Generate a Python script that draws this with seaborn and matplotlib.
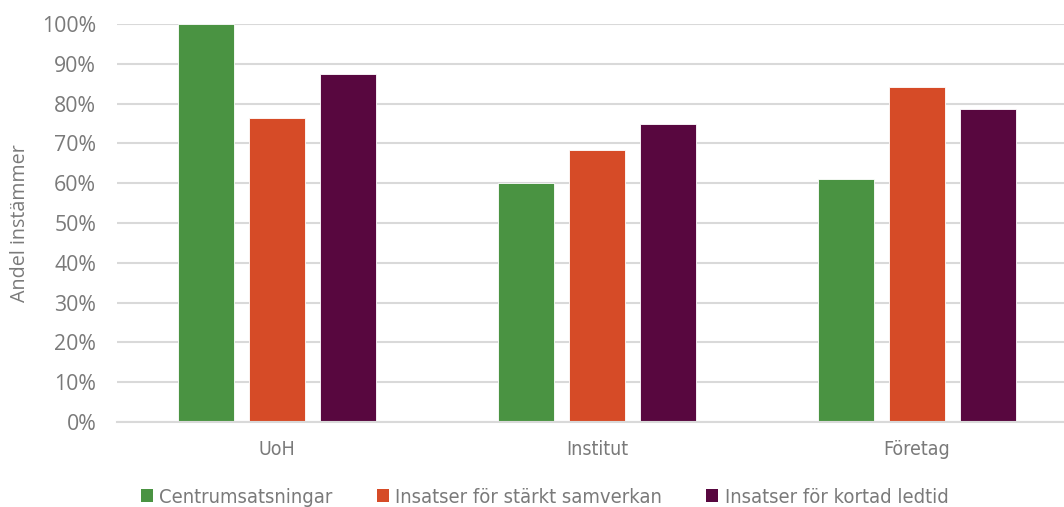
import matplotlib
matplotlib.use("Agg")
import matplotlib.pyplot as plt
import seaborn as sns
import pandas as pd
from matplotlib.ticker import PercentFormatter
from matplotlib.patches import Patch
from matplotlib.font_manager import FontProperties

categories = ["UoH", "Institut", "Företag"]
series = ["Centrumsatsningar", "Insatser för stärkt samverkan", "Insatser för kortad ledtid"]
centrum = [1.00, 0.601, 0.611]
samverkan = [0.764, 0.683, 0.842]
ledtid = [0.874, 0.749, 0.786]
colors = ["#4a9342", "#d64b27", "#58073f"]

rows = []
for name, vals in zip(series, [centrum, samverkan, ledtid]):
    for cat, v in zip(categories, vals):
        rows.append({"Kategori": cat, "Serie": name, "Andel": v})
df = pd.DataFrame(rows)

text_gray = "#7a7a7a"

sns.set_theme(style="white")
fig = plt.figure(figsize=(10.64, 5.07), dpi=100)
ax = fig.add_axes([0.110, 0.1677, 0.9022, 0.785])

sns.barplot(data=df, x="Kategori", y="Andel", hue="Serie", order=categories,
            hue_order=series, palette=colors, saturation=1, width=0.666, gap=0.212,
            edgecolor="white", linewidth=0.6, ax=ax, legend=False, errorbar=None)

narrow = FontProperties(family="DejaVu Sans", stretch="condensed", size=14)

ax.set_xlim(-0.5, 2.5)
ax.set_ylim(0, 1.0)
ax.set_yticks([i / 10 for i in range(11)])
ax.yaxis.set_major_formatter(PercentFormatter(1.0, decimals=0))
ax.yaxis.grid(True, color="#d9d9d9", linewidth=1.5)
ax.set_axisbelow(True)
for s in ["top", "right", "left"]:
    ax.spines[s].set_visible(False)
ax.spines["bottom"].set_color("#d9d9d9")
ax.spines["bottom"].set_linewidth(1.5)
ax.tick_params(axis="both", length=0)
ax.tick_params(axis="y", labelsize=15.3, labelcolor=text_gray, pad=15)
ax.tick_params(axis="x", labelcolor=text_gray, pad=13)
for lbl in ax.get_yticklabels():
    lbl.set_fontfamily("Open Sans")
for lbl in ax.get_xticklabels():
    lbl.set_fontproperties(narrow)
ax.set_xlabel("")
ax.set_ylabel("Andel instämmer", fontsize=14.2, color=text_gray, family="Open Sans", labelpad=9)

handles = [Patch(facecolor=c, edgecolor="none") for c in colors]
fig.legend(handles, series, loc="lower center", bbox_to_anchor=(0.512, -0.035), ncol=3,
           frameon=False, prop=FontProperties(family="DejaVu Sans", stretch="condensed", size=14.5),
           labelcolor=text_gray, handlelength=0.6, handleheight=0.6, handletextpad=0.3,
           columnspacing=2.2)

fig.savefig("out.png", dpi=100)
